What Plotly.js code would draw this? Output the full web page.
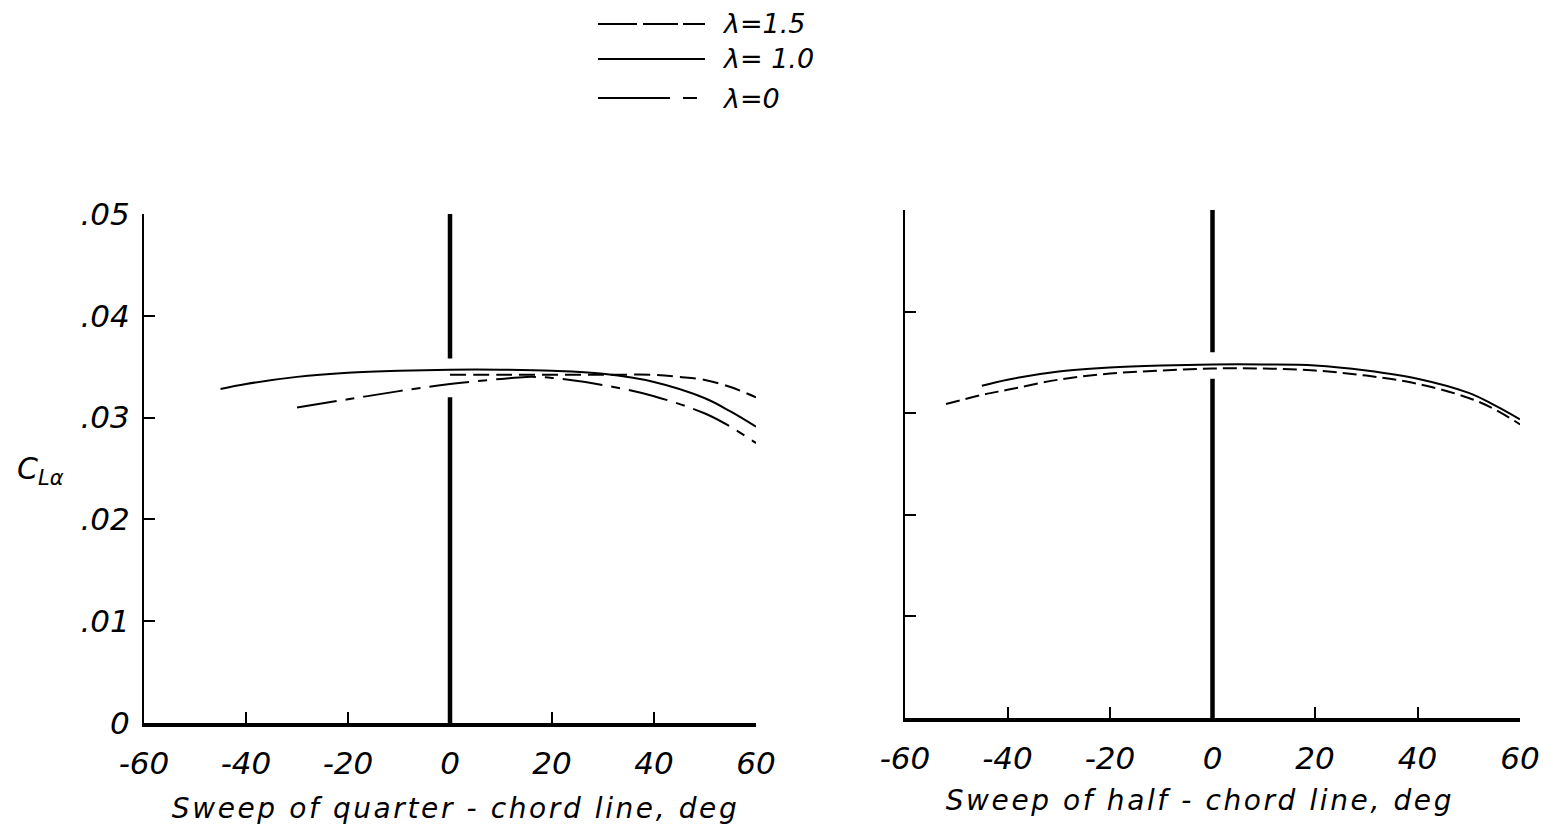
<!DOCTYPE html>
<html>
<head>
<meta charset="utf-8">
<script src="https://cdn.plot.ly/plotly-3.0.1.min.js"></script>
<style>
  html, body { margin: 0; padding: 0; background: #fff; }
  #chart { width: 1553px; height: 833px; }
</style>
</head>
<body>
<div id="chart"></div>
<script>
// ---- Data ----
// Left panel: sweep of quarter-chord line
const xQ_l15 = [0, 10, 20, 30, 40, 45, 50, 55, 60];
const yQ_l15 = [0.0342, 0.0342, 0.0342, 0.0342, 0.0342, 0.0340, 0.0337, 0.0330, 0.0320];
const xQ_l10 = [-45, -40, -30, -20, -10, 0, 10, 20, 30, 40, 50, 55, 60];
const yQ_l10 = [0.0328, 0.0333, 0.0340, 0.0344, 0.0346, 0.0347, 0.0347, 0.0346, 0.0343, 0.0335, 0.0319, 0.0306, 0.0291];
const xQ_l0 = [-30, -20, -10, 0, 10, 15, 20, 30, 40, 50, 55, 60];
const yQ_l0 = [0.0310, 0.0318, 0.0326, 0.0333, 0.0338, 0.0340, 0.0339, 0.0332, 0.0321, 0.0304, 0.0291, 0.0275];

// Right panel: sweep of half-chord line
const xH_l10 = [-45, -40, -30, -20, -10, 0, 10, 20, 30, 40, 50, 55, 60];
const yH_l10 = [0.0327, 0.0333, 0.0341, 0.0345, 0.0347, 0.0348, 0.0348, 0.0347, 0.0342, 0.0334, 0.0320, 0.0308, 0.0294];
const xH_l0 = [-52, -45, -40, -30, -20, -10, 0, 10, 20, 30, 40, 50, 55, 60];
const yH_l0 = [0.0309, 0.0318, 0.0323, 0.0333, 0.0339, 0.0342, 0.0344, 0.0344, 0.0342, 0.0337, 0.0329, 0.0315, 0.0304, 0.0289];

// Heavy reference line at zero sweep (lower and upper pieces)
const zeroX = [0, 0];
const zeroLowQ = [0, 0.0320];
const zeroHighQ = [0.0358, 0.0505];
const zeroLowH = [0, 0.0334];
const zeroHighH = [0.0360, 0.0505];

// Axis ticks
const xTicks = [-60, -40, -20, 0, 20, 40, 60];
const xTickText = ['-60', '-40', '-20', '0', '20', '40', '60'];
const yTicks = [0, 0.01, 0.02, 0.03, 0.04, 0.05];
const yTickText = ['0', '.01', '.02', '.03', '.04', '.05'];

const legendLabels = ['λ=1.5', 'λ= 1.0', 'λ=0'];

// ---- Styles ----
const W = 1553, H = 833;
const px = x => x / W;
const py = y => 1 - y / H;
const FONT = 'DejaVu Sans';
const ink = '#000';
const dash15 = '16px,7px';
const dash0 = '40px,9px,9px,9px';

function line(x, y, xa, ya, dash, width) {
  return { x: x, y: y, xaxis: xa, yaxis: ya, type: 'scatter', mode: 'lines',
           line: { color: ink, width: width || 2, dash: dash || 'solid', shape: 'spline', smoothing: 1.0 },
           hoverinfo: 'skip', showlegend: false, cliponaxis: false };
}
function bar(x, y, xa, ya) {
  return { x: x, y: y, xaxis: xa, yaxis: ya, type: 'scatter', mode: 'lines',
           line: { color: ink, width: 4.5 }, hoverinfo: 'skip', showlegend: false, cliponaxis: false };
}

const data = [
  bar(zeroX, zeroLowQ, 'x', 'y'),
  bar(zeroX, zeroHighQ, 'x', 'y'),
  line(xQ_l15, yQ_l15, 'x', 'y', dash15),
  line(xQ_l10, yQ_l10, 'x', 'y', 'solid'),
  line(xQ_l0, yQ_l0, 'x', 'y', dash0),
  bar(zeroX, zeroLowH, 'x2', 'y2'),
  bar(zeroX, zeroHighH, 'x2', 'y2'),
  line(xH_l10, yH_l10, 'x2', 'y2', 'solid'),
  line(xH_l0, yH_l0, 'x2', 'y2', '14px,6px')
];

const tickFont = { family: FONT, size: 31, color: ink, style: 'italic' };
function xax(domain) {
  return { domain: domain, range: [-60, 60], tickmode: 'array', tickvals: xTicks, ticktext: xTickText,
           ticks: 'inside', ticklen: 11, tickwidth: 2, tickcolor: ink, showline: true, linewidth: 3.5,
           linecolor: ink, showgrid: false, zeroline: false, tickfont: tickFont, ticklabelstandoff: 10,
           fixedrange: true };
}
function yax(domain, anchor, labels) {
  return { domain: domain, range: [0, 0.05], anchor: anchor, tickmode: 'array', tickvals: yTicks,
           ticktext: yTickText, ticks: 'inside', ticklen: 11, tickwidth: 2, tickcolor: ink,
           showline: true, linewidth: 2, linecolor: ink, showgrid: false, zeroline: false,
           showticklabels: labels, tickfont: tickFont, ticklabelstandoff: 6, fixedrange: true };
}

// Legend drawn as lines + text at the top of the figure
const legShapes = [];
const segs = [
  [[598, 637], [643, 678], [683, 705]],
  [[598, 705]],
  [[598, 670], [683, 697]]
];
const legY = [24, 59, 98];
segs.forEach((row, i) => row.forEach(s => legShapes.push({
  type: 'line', xref: 'paper', yref: 'paper', x0: px(s[0]), x1: px(s[1]), y0: py(legY[i]), y1: py(legY[i]),
  line: { color: ink, width: 2 } })));

const annFont = { family: FONT, size: 28, color: ink, style: 'italic' };
const annotations = legendLabels.map((t, i) => ({
  text: t, xref: 'paper', yref: 'paper', x: px(720), y: py(legY[i]), xanchor: 'left', yanchor: 'middle',
  showarrow: false, font: { family: FONT, size: 27, color: ink, style: 'italic' } }));

annotations.push({ text: 'Sweep of quarter - chord line, deg', xref: 'paper', yref: 'paper',
  x: px(456), y: py(808), xanchor: 'center', yanchor: 'middle', showarrow: false, font: annFont });
annotations.push({ text: 'Sweep of half - chord line, deg', xref: 'paper', yref: 'paper',
  x: px(1200), y: py(800), xanchor: 'center', yanchor: 'middle', showarrow: false, font: annFont });
annotations.push({ text: 'C<sub>Lα</sub>', xref: 'paper', yref: 'paper',
  x: px(40), y: py(470), xanchor: 'center', yanchor: 'middle', showarrow: false,
  font: { family: FONT, size: 30, color: ink, style: 'italic' } });

const layout = {
  width: W, height: H, margin: { l: 0, r: 0, t: 0, b: 0 },
  paper_bgcolor: '#fff', plot_bgcolor: '#fff', showlegend: false,
  xaxis: xax([px(144), px(756)]),
  yaxis: yax([py(723), py(214)], 'x', true),
  xaxis2: Object.assign(xax([px(905), px(1520)]), { anchor: 'y2' }),
  yaxis2: yax([py(718), py(210)], 'x2', false),
  shapes: legShapes,
  annotations: annotations
};
layout.xaxis.anchor = 'y';

Plotly.newPlot('chart', data, layout, { staticPlot: true, displayModeBar: false }).then(gd => {
  // widen the lettering of the axis titles like the hand-lettered original
  gd.querySelectorAll('text.annotation-text').forEach(t => {
    if (t.textContent.indexOf('Sweep') === 0) t.style.letterSpacing = '2.6px';
  });
});
</script>
</body>
</html>
